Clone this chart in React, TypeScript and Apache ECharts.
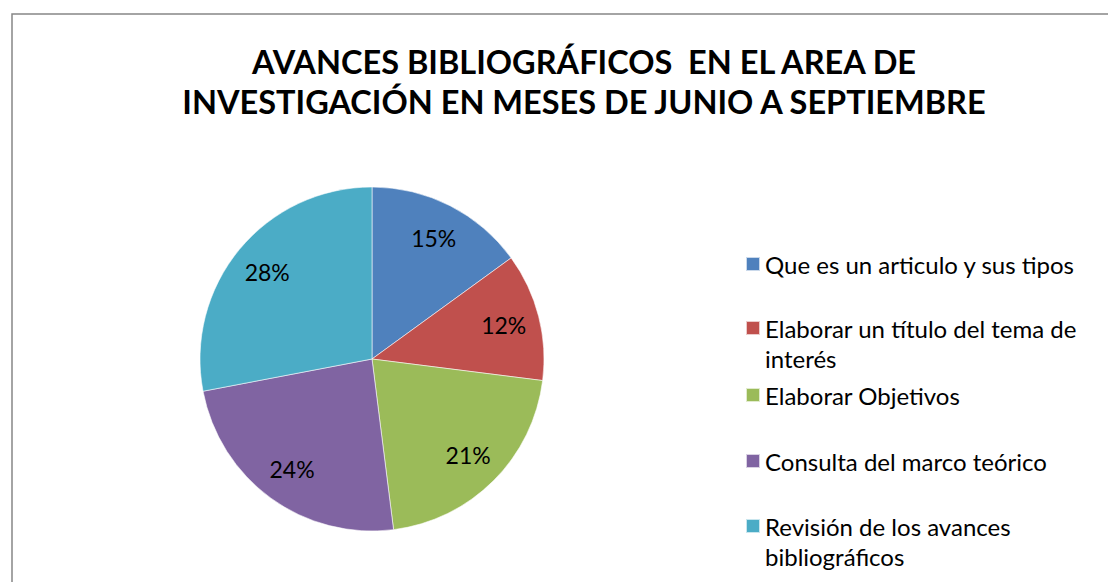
import React, { useEffect, useRef } from "react";
import * as echarts from "echarts";

const TITLE = "AVANCES BIBLIOGRÁFICOS  EN EL AREA DE\nINVESTIGACIÓN EN MESES DE JUNIO A SEPTIEMBRE";
const categories = [
  "Que es un articulo y sus tipos",
  "Elaborar un título del tema de interés",
  "Elaborar Objetivos",
  "Consulta del marco teórico",
  "Revisión de los avances bibliográficos",
];
const legendLabels = [
  "Que es un articulo y sus tipos",
  "Elaborar un título del tema de\ninterés",
  "Elaborar Objetivos",
  "Consulta del marco teórico",
  "Revisión de los avances\nbibliográficos",
];
const values = [15, 12, 21, 24, 28];
const colors = ["#4F81BD", "#C0504D", "#9BBB59", "#8064A2", "#4BACC6"];

export default function App() {
  const ref = useRef<HTMLDivElement>(null);
  useEffect(() => {
    if (!ref.current) return;
    const chart = echarts.init(ref.current, undefined, { renderer: "svg" });
    const font = "Lato, 'Noto Sans', sans-serif";
    const data = categories.map((n, i) => ({ name: n, value: values[i], itemStyle: { color: colors[i] } }));
    const centers = [264, 328, 395, 461, 526];
    const lh = 30;
    const legends = categories.map((n, i) => {
      const lines = legendLabels[i].split("\n").length;
      // multi-line labels get a leading blank line so the first line sits on the marker
      const shown = lines > 1 ? "\n" + legendLabels[i] : legendLabels[i];
      const total = lines > 1 ? 2 * lines - 1 : 1;
      const h = total * lh;
      return {
        data: [n],
        orient: "vertical",
        left: 745,
        top: centers[i] - h / 2,
        itemWidth: 14,
        itemHeight: 14,
        icon: "rect",
        itemGap: 0,
        padding: 0,
        selectedMode: false,
        formatter: () => (lines > 1 ? shown + "\n".repeat(lines - 2) : shown),
        textStyle: {
          fontFamily: font,
          fontSize: 24,
          lineHeight: lh,
          color: "#000",
        },
      };
    });
    chart.setOption({
      animation: false,
      backgroundColor: "#fff",
      graphic: [
        {
          type: "rect",
          shape: { x: 12, y: 14, width: 1300, height: 800 },
          style: { fill: "none", stroke: "#868686", lineWidth: 1.5 },
          silent: true,
        },
      ],
      title: {
        text: TITLE,
        left: 584,
        top: 41,
        padding: 0,
        textAlign: "center",
        textStyle: {
          fontFamily: font,
          fontWeight: "bold",
          fontSize: 32.5,
          lineHeight: 40.5,
          color: "#000",
        },
      },
      legend: legends,
      series: [
        {
          type: "pie",
          center: [372, 359],
          radius: [0, 172],
          startAngle: 90,
          clockwise: true,
          silent: true,
          label: { show: false },
          labelLine: { show: false },
          itemStyle: { borderColor: "rgba(255,255,255,0.7)", borderWidth: 0.8 },
          data,
        },
        {
          type: "pie",
          center: [372, 359],
          radius: [94, 172],
          startAngle: 90,
          clockwise: true,
          silent: true,
          itemStyle: { color: "transparent" },
          label: {
            show: true,
            position: "inside",
            formatter: (p: any) => Math.round(p.percent) + "%",
            fontFamily: font,
            fontSize: 23,
            color: "#000",
          },
          labelLine: { show: false },
          data: categories.map((n, i) => ({ name: n, value: values[i], itemStyle: { color: "transparent" } })),
        },
      ],
    });
    return () => chart.dispose();
  }, []);
  return (
    <div
      ref={ref}
      style={{ position: "fixed", left: 0, top: 0, width: 1108, height: 582 }}
    />
  );
}
